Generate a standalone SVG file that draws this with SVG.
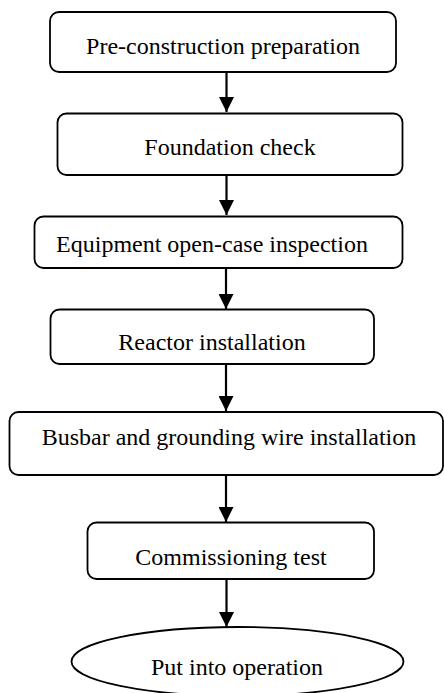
<svg xmlns="http://www.w3.org/2000/svg" width="444" height="693" viewBox="0 0 444 693">
<defs>
<style>
.box{fill:#fff;stroke:#000;stroke-width:1.8}
.lbl{font-family:"Liberation Serif","Times New Roman",serif;font-size:24px;fill:#000;text-anchor:middle}
.conn{stroke:#000;stroke-width:2.2;fill:none}
</style>
<marker id="ah" markerWidth="15" markerHeight="15" viewBox="0 0 15 15" refX="15" refY="7.5" orient="auto" markerUnits="userSpaceOnUse">
<path d="M0,0 L15,7.5 L0,15 Z" fill="#000"/>
</marker>
</defs>
<rect width="444" height="693" fill="#fff"/>
<g id="connectors">
<line class="conn" x1="226.5" y1="72" x2="226.5" y2="112" marker-end="url(#ah)"/>
<line class="conn" x1="226.5" y1="175" x2="226.5" y2="215" marker-end="url(#ah)"/>
<line class="conn" x1="226" y1="268" x2="226" y2="309" marker-end="url(#ah)"/>
<line class="conn" x1="226" y1="364" x2="226" y2="411" marker-end="url(#ah)"/>
<line class="conn" x1="226" y1="475" x2="226" y2="522" marker-end="url(#ah)"/>
<line class="conn" x1="226.5" y1="579" x2="226.5" y2="627" marker-end="url(#ah)"/>
</g>
<g id="n1"><rect class="box" x="50" y="12" width="346" height="60" rx="9"/><text class="lbl" x="223" y="54">Pre-construction preparation</text></g>
<g id="n2"><rect class="box" x="57.5" y="113.5" width="345" height="61.5" rx="9"/><text class="lbl" x="230" y="155">Foundation check</text></g>
<g id="n3"><rect class="box" x="34.5" y="216.5" width="368" height="51.5" rx="9"/><text class="lbl" x="212" y="252">Equipment open-case inspection</text></g>
<g id="n4"><rect class="box" x="50.5" y="309.5" width="323.5" height="54.5" rx="9"/><text class="lbl" x="212" y="350">Reactor installation</text></g>
<g id="n5"><rect class="box" x="9.5" y="412" width="433.5" height="63" rx="9"/><text class="lbl" x="229" y="445">Busbar and grounding wire installation</text></g>
<g id="n6"><rect class="box" x="87.5" y="522.5" width="286.5" height="56.5" rx="9"/><text class="lbl" x="231" y="565">Commissioning test</text></g>
<g id="n7"><ellipse class="box" cx="237.5" cy="661.5" rx="166" ry="34.5"/><text class="lbl" x="237" y="675">Put into operation</text></g>
</svg>
